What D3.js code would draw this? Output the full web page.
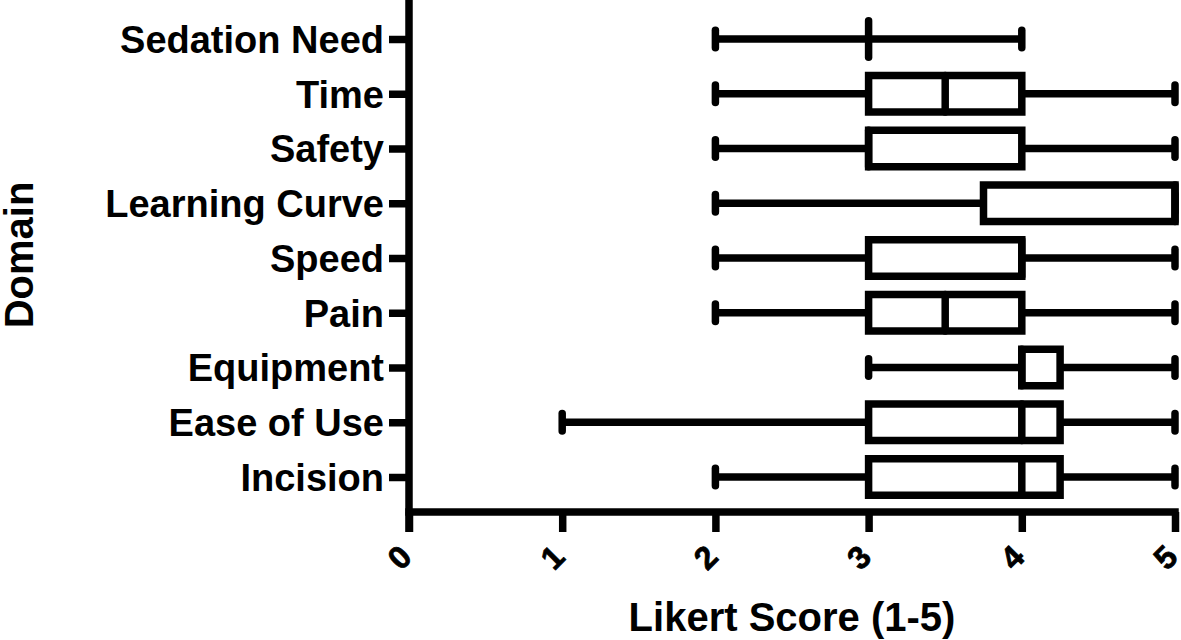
<!DOCTYPE html>
<html>
<head>
<meta charset="utf-8">
<script src="https://cdn.jsdelivr.net/npm/d3@7/dist/d3.min.js"></script>
<style>
  html, body { margin: 0; padding: 0; background: #fff; }
  svg { display: block; }
  text { font-family: "Liberation Sans", Arial, Helvetica, sans-serif; font-weight: bold; fill: #000; }
</style>
</head>
<body>
<svg id="chart" width="1181" height="640"></svg>
<script>
// ---- data ----
const categories = ["Sedation Need", "Time", "Safety", "Learning Curve", "Speed", "Pain", "Equipment", "Ease of Use", "Incision"];
const minVals    = [2, 2, 2, 2,    2, 2, 3,    1,    2];
const q1Vals     = [3, 3, 3, 3.75, 3, 3, 4,    3,    3];
const medianVals = [3, 3.5, 3, 5,  4, 3.5, 4,  4,    4];
const q3Vals     = [3, 4, 4, 5,    4, 4, 4.25, 4.25, 4.25];
const maxVals    = [4, 5, 5, 5,    5, 5, 5,    5,    5];
const xTicks = [0, 1, 2, 3, 4, 5];
const xTitle = "Likert Score (1-5)";
const yTitle = "Domain";

// ---- layout ----
const SW = 7.5;
const axisX = 409, axisY = 512;
const svg = d3.select("#chart");

const x = d3.scaleLinear().domain([0, 5]).range([axisX, 1175]);
const y = d3.scalePoint().domain(categories).range([39, 477]);

const rows = categories.map((c, i) => ({
  cat: c, min: minVals[i], q1: q1Vals[i], med: medianVals[i], q3: q3Vals[i], max: maxVals[i]
}));

// ---- axes ----
const yAxis = svg.append("g")
  .attr("transform", `translate(${axisX},0)`)
  .call(d3.axisLeft(y).tickSize(20).tickSizeOuter(0).tickPadding(5));
yAxis.select(".domain").remove();
yAxis.selectAll(".tick line").attr("stroke", "#000").attr("stroke-width", SW);
yAxis.selectAll(".tick text")
  .attr("font-size", 38)
  .attr("font-family", '"Liberation Sans", Arial, sans-serif')
  .attr("font-weight", "bold")
  .attr("fill", "#000")
  .attr("dy", "0.35em");

const xAxis = svg.append("g")
  .attr("transform", `translate(0,${axisY})`)
  .call(d3.axisBottom(x).tickValues(xTicks).tickFormat(d3.format("d")).tickSize(20).tickSizeOuter(0));
xAxis.select(".domain").remove();
xAxis.selectAll(".tick line").attr("stroke", "#000").attr("stroke-width", SW);
xAxis.selectAll(".tick text")
  .attr("font-size", 32)
  .attr("font-family", '"Liberation Sans", Arial, sans-serif')
  .attr("font-weight", "bold")
  .attr("fill", "#000")
  .attr("stroke", "#000").attr("stroke-width", 0.8)
  .attr("text-anchor", "end")
  .attr("y", null).attr("dy", null)
  .attr("transform", "translate(4,47) rotate(-45)");

// axis lines
svg.append("line")
  .attr("x1", axisX).attr("x2", axisX)
  .attr("y1", 0).attr("y2", axisY + 20)
  .attr("stroke", "#000").attr("stroke-width", SW);
svg.append("line")
  .attr("x1", axisX - SW / 2).attr("x2", x(5) + SW / 2)
  .attr("y1", axisY).attr("y2", axisY)
  .attr("stroke", "#000").attr("stroke-width", SW);

// ---- boxes ----
const boxH = 36.5, capH = 17.5;
const g = svg.append("g");
const row = g.selectAll("g.row").data(rows).join("g").attr("class", "row");

// whiskers
row.append("line")
  .attr("x1", d => x(d.min)).attr("x2", d => x(d.q1))
  .attr("y1", d => y(d.cat)).attr("y2", d => y(d.cat))
  .attr("stroke", "#000").attr("stroke-width", SW);
row.append("line")
  .attr("x1", d => x(d.q3)).attr("x2", d => x(d.max))
  .attr("y1", d => y(d.cat)).attr("y2", d => y(d.cat))
  .attr("stroke", "#000").attr("stroke-width", SW);
// whisker caps
row.append("line")
  .attr("x1", d => x(d.min)).attr("x2", d => x(d.min))
  .attr("y1", d => y(d.cat) - capH / 2).attr("y2", d => y(d.cat) + capH / 2)
  .attr("stroke", "#000").attr("stroke-width", SW).attr("stroke-linecap", "round");
row.append("line")
  .attr("x1", d => x(d.max)).attr("x2", d => x(d.max))
  .attr("y1", d => y(d.cat) - capH / 2).attr("y2", d => y(d.cat) + capH / 2)
  .attr("stroke", "#000").attr("stroke-width", SW).attr("stroke-linecap", "round");
// box
row.filter(d => d.q3 > d.q1).append("rect")
  .attr("x", d => x(d.q1)).attr("width", d => x(d.q3) - x(d.q1))
  .attr("y", d => y(d.cat) - boxH / 2).attr("height", boxH)
  .attr("fill", "#fff").attr("stroke", "#000").attr("stroke-width", SW);
// median
row.append("line")
  .attr("x1", d => x(d.med)).attr("x2", d => x(d.med))
  .attr("y1", d => y(d.cat) - boxH / 2).attr("y2", d => y(d.cat) + boxH / 2)
  .attr("stroke", "#000").attr("stroke-width", SW).attr("stroke-linecap", "round");

// ---- titles ----
svg.append("text")
  .attr("x", 792).attr("y", 631)
  .attr("text-anchor", "middle")
  .attr("font-size", 40)
  .text(xTitle);
svg.append("text")
  .attr("transform", "translate(33,255) rotate(-90)")
  .attr("text-anchor", "middle")
  .attr("font-size", 40)
  .text(yTitle);
</script>
</body>
</html>
